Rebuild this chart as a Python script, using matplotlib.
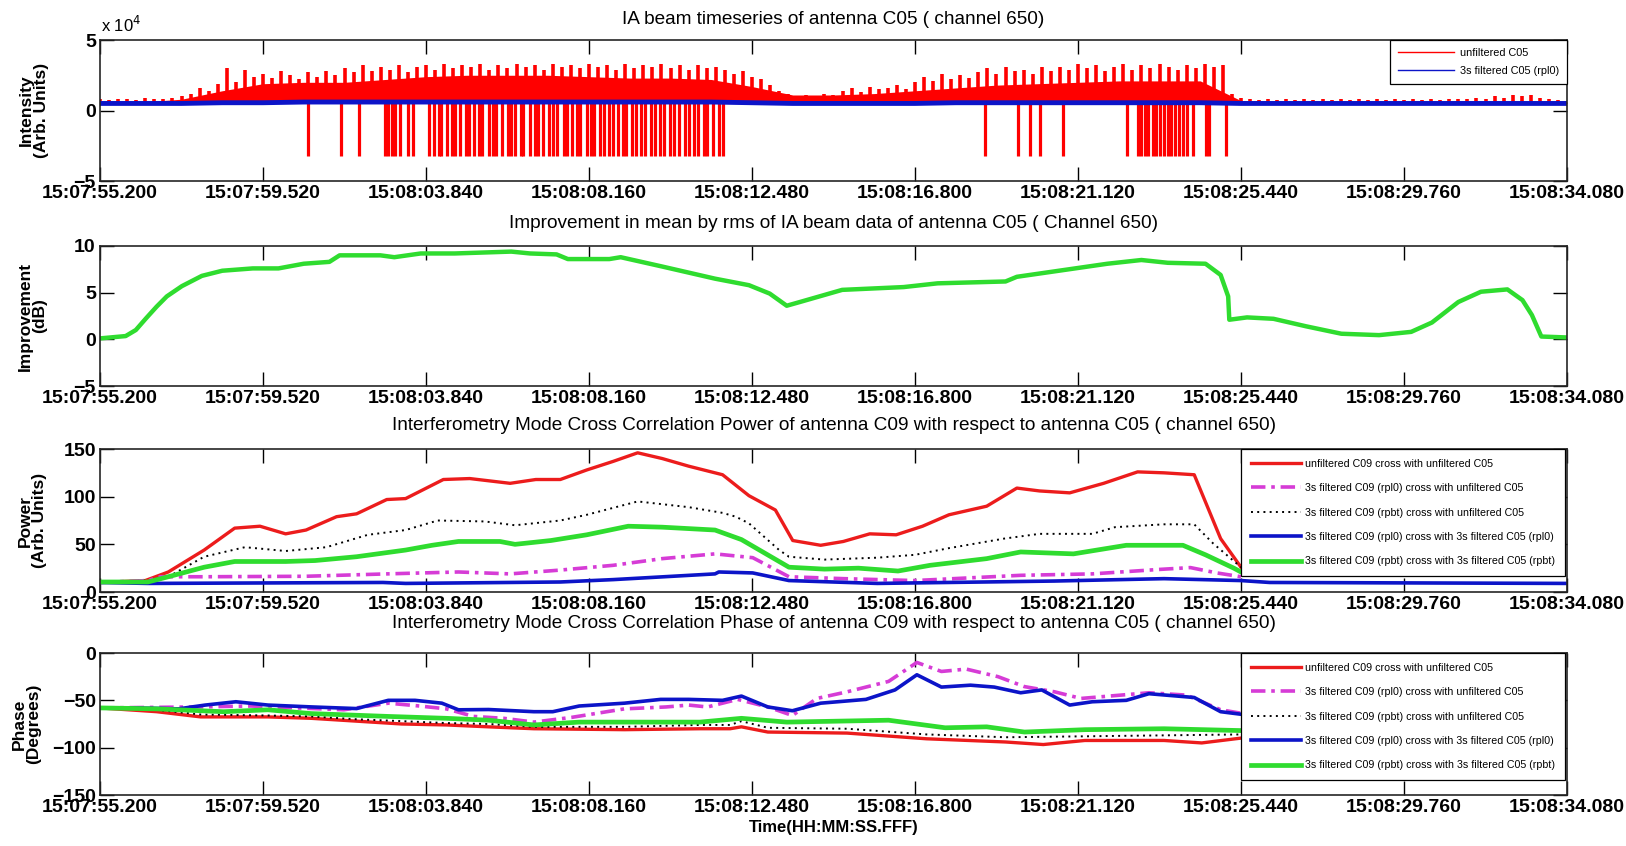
import numpy as np
import matplotlib
matplotlib.use("Agg")
import matplotlib.pyplot as plt

SANS = ["Liberation Sans", "DejaVu Sans"]

# time axis: seconds after 15:07:55.200
T_SPAN = 38.88
TICK_POS = [0.0, 4.32, 8.64, 12.96, 17.28, 21.6, 25.92, 30.24, 34.56, 38.88]
TICK_LABELS = ["15:07:55.200", "15:07:59.520", "15:08:03.840", "15:08:08.160",
               "15:08:12.480", "15:08:16.800", "15:08:21.120", "15:08:25.440",
               "15:08:29.760", "15:08:34.080"]

# --- panel 1: IA beam timeseries (units of 1e4) ---
IA_PEAK_STEP = 0.24
ia_peaks = [0.8, 0.75, 0.85, 0.8, 0.75, 0.9, 0.8, 0.85, 0.9,
            1.0, 1.2,
            1.6, 1.4, 1.9, 3.0,
            2.0, 2.9, 2.4, 2.6, 2.3, 2.8, 2.5, 2.2, 2.7, 2.4, 2.8, 2.5,
            3.0, 2.7, 3.2, 2.8, 3.1, 2.9, 3.2, 2.7, 3.1,
            3.2, 2.9, 3.3, 3.0, 3.2, 3.1, 3.3, 2.9, 3.2, 3.0, 3.3, 3.1, 3.2, 2.9, 3.3, 3.1,
            3.2, 3.0, 3.3, 3.1, 3.2, 2.9, 3.3, 3.0, 3.2, 3.1, 3.3, 3.0, 3.2, 2.9, 3.2, 3.0, 3.1,
            2.9, 2.6, 2.8, 2.4, 2.2, 1.8,
            1.4, 1.2, 1.0,
            1.1, 1.0, 1.2, 1.1,
            1.4, 1.6, 1.3, 1.7, 1.5, 1.6, 1.8, 1.5,
            2.0, 2.4, 2.1, 2.6, 2.2, 2.5, 2.3,
            2.7, 3.0, 2.6, 3.1, 2.8, 2.9, 2.6, 3.1, 2.8,
            3.1, 2.9, 3.3, 3.0, 3.2, 2.8, 3.1, 3.3, 2.9, 3.2, 3.0, 3.3, 3.1, 2.9, 3.2, 3.0, 3.3, 3.1, 3.2,
            1.2,
            0.9, 0.8, 0.75, 0.8, 0.75, 0.8, 0.75, 0.8, 0.75, 0.8, 0.75, 0.8, 0.75, 0.8, 0.75, 0.8,
            0.75, 0.8, 0.75, 0.8, 0.75, 0.8, 0.75, 0.8, 0.85, 0.8, 0.9, 0.85, 1.0, 0.9, 1.1, 1.0,
            1.1, 0.9, 0.8, 0.75, 0.7]
IA_BODY_STEP = 1.08
ia_body = [0.6, 0.6, 0.8, 1.4, 1.9, 2.0, 2.0, 2.2, 2.4, 2.5, 2.5, 2.5, 2.4, 2.3, 2.3, 2.2,
           1.7, 1.1, 1.1, 1.2, 1.4, 1.6, 1.8, 1.9, 2.0, 2.1, 2.1, 2.1, 0.7, 0.6, 0.6, 0.6,
           0.6, 0.6, 0.6, 0.6, 0.6]
ia_filtered = [0.5, 0.5, 0.5, 0.55, 0.55, 0.6, 0.6, 0.6, 0.6, 0.6, 0.6, 0.6, 0.6, 0.6, 0.6,
               0.6, 0.55, 0.5, 0.5, 0.5, 0.5, 0.55, 0.55, 0.55, 0.55, 0.55, 0.55, 0.55, 0.5,
               0.5, 0.5, 0.5, 0.5, 0.5, 0.5, 0.5, 0.5]
ia_dip_times = [5.51, 6.39, 6.86, 7.55, 7.62, 7.74, 7.83, 7.95, 8.16, 8.29,
                8.72, 8.85, 8.98, 9.05, 9.2, 9.33, 9.41, 9.55, 9.7, 9.78, 9.92, 10.05,
                10.12, 10.3, 10.42, 10.5, 10.65, 10.8, 10.88, 11.0, 11.15, 11.22, 11.4,
                11.52, 11.6, 11.75, 11.9, 12.0, 12.12, 12.3, 12.38, 12.5, 12.65, 12.72,
                12.9, 13.0, 13.1, 13.25, 13.35, 13.5, 13.6, 13.72, 13.85, 13.95, 14.1,
                14.2, 14.35, 14.45, 14.6, 14.7, 14.85, 14.95, 15.1, 15.2, 15.35, 15.5,
                15.6, 15.75, 15.85, 16.0, 16.1, 16.25, 16.4, 16.5,
                23.45, 24.33, 24.65, 24.9, 25.52, 27.22, 27.5, 27.6, 27.7, 27.78, 27.9,
                28.0, 28.1, 28.2, 28.3, 28.38, 28.5, 28.6, 28.7, 28.8, 28.97, 29.3, 29.4,
                29.84]
IA_DIP_LEVEL = -3.25

# --- panel 2: improvement (dB) ---
imp_t = [0, 0.68, 0.95, 1.22, 1.5, 1.77, 2.17, 2.7, 3.24, 4.05, 4.73, 5.4, 6.08, 6.35,
         7.43, 7.8, 8.5, 9.4, 10.9, 11.4, 12.1, 12.4, 13.5, 13.8, 14.9, 16.3, 17.2, 17.75,
         18.2, 18.55, 19.67, 21.3, 22.2, 24.0, 24.3, 25.5, 26.7, 27.6, 28.3, 29.3, 29.7,
         29.9, 29.93, 30.4, 31.1, 31.96, 32.9, 33.9, 34.75, 35.3, 36.0, 36.6, 37.3, 37.7,
         37.95, 38.2, 38.88]
imp_db = [0.1, 0.35, 1.0, 2.25, 3.5, 4.6, 5.7, 6.8, 7.35, 7.6, 7.6, 8.1, 8.3, 9.0,
          9.0, 8.8, 9.2, 9.2, 9.4, 9.2, 9.1, 8.6, 8.6, 8.8, 7.8, 6.5, 5.8, 4.9,
          3.6, 4.0, 5.3, 5.6, 6.0, 6.2, 6.7, 7.4, 8.1, 8.5, 8.2, 8.1, 6.9,
          4.6, 2.1, 2.35, 2.2, 1.4, 0.6, 0.45, 0.8, 1.8, 4.0, 5.1, 5.35, 4.2,
          2.6, 0.3, 0.2]

# --- panel 3: cross correlation power ---
pw_red_t = [0, 1.2, 1.81, 2.76, 3.57, 4.24, 4.92, 5.46, 6.27, 6.8, 7.6, 8.1, 9.1, 9.8,
            10.87, 11.55, 12.2, 12.9, 13.6, 14.25, 14.9, 15.6, 16.5, 17.2, 17.9, 18.36,
            19.1, 19.7, 20.4, 21.1, 21.8, 22.5, 23.5, 24.3, 24.9, 25.7, 26.6, 27.5, 28.2,
            29.0, 29.7, 30.24]
pw_red = [10, 12, 21, 44, 67, 69, 61, 65, 79, 82, 97, 98, 118, 119, 114, 118, 118, 128,
          137, 146, 140, 132, 123, 101, 86, 54, 49, 53, 61, 60, 69, 81, 90, 109, 106, 104,
          114, 126, 125, 123, 56, 26]
pw_mag_t = [0, 1.27, 1.6, 2.76, 5.46, 7.6, 9.5, 10.87, 12.2, 13.6, 14.9, 16.3, 17.3, 18.26,
            19.7, 21.6, 24.4, 26.3, 28.0, 28.9, 29.6, 30.24]
pw_mag = [10, 12, 16, 16, 16.5, 19, 21, 19, 23, 28, 35, 40, 36, 16, 14, 12, 17.5, 19,
          23.5, 25.6, 20, 16]
pw_blk_t = [0, 1.27, 1.81, 2.76, 3.84, 4.92, 6.0, 7.1, 8.1, 8.95, 10.2, 11.0, 12.2, 12.9,
            14.25, 15.6, 16.5, 16.85, 17.2, 18.0, 18.26, 19.2, 20.6, 21.6, 22.5, 23.96,
            24.9, 26.3, 26.9, 28.2, 29.0, 29.5, 30.24]
pw_blk = [10, 12, 16, 37, 47, 43, 47, 60, 65, 75, 74, 70, 75, 81, 95, 89, 83, 79, 72, 44,
          37, 34, 36, 39, 46, 56, 61, 61, 68, 71, 71, 51, 26]
pw_blu_t = [0, 1.27, 7.5, 8.1, 12.2, 13.6, 16.3, 16.4, 17.3, 18.26, 20.6, 25.3, 28.2,
            30.24, 31.0, 38.88]
pw_blu = [10, 9, 10, 9, 10.5, 13, 19, 21, 20, 12, 9, 11.5, 14, 12, 10, 9]
pw_grn_t = [0, 1.27, 1.81, 2.76, 3.57, 4.92, 5.7, 6.8, 8.1, 8.8, 9.5, 10.6, 11.0, 11.95,
            12.9, 14.0, 14.9, 16.3, 17.0, 18.26, 19.2, 20.1, 21.15, 22.0, 23.5, 24.4, 25.8,
            27.2, 28.7, 29.3, 30.05, 30.24]
pw_grn = [10.5, 10.5, 16, 26, 32, 32, 33, 37, 44, 49, 53, 53, 50, 54, 60, 69, 68, 65, 55,
          26, 24, 25, 22, 28, 35, 42, 40, 49, 49, 39, 25, 21]

# --- panel 4: cross correlation phase (degrees) ---
ph_red_t = [0, 1.5, 2.67, 4.45, 5.6, 6.8, 8.0, 9.18, 10.3, 11.5, 13.9, 15.9, 16.7, 17.0,
            17.7, 19.8, 21.9, 24.0, 25.0, 26.1, 28.2, 29.2, 30.3]
ph_red = [-58, -62, -67.5, -67.5, -69, -72, -75, -76, -78, -80, -81, -80, -80, -78, -83.5,
          -84.6, -90.6, -94, -96.7, -92.4, -92.4, -95, -89.6]
ph_mag_t = [0, 2.5, 4.0, 6.46, 7.64, 8.47, 9.18, 9.9, 10.7, 11.5, 12.5, 13.9, 15.0, 15.6,
            16.1, 16.9, 17.7, 18.35, 19.0, 19.8, 20.9, 21.65, 22.3, 22.96, 23.8, 24.5, 25.3,
            26.0, 26.75, 27.8, 28.8, 29.7, 30.3]
ph_mag = [-58, -57, -56, -60, -53, -56, -59, -67, -69, -73, -68, -59, -57, -55, -57, -49,
          -57, -66, -48, -41, -30, -10, -19.5, -17, -25, -35.5, -41, -48, -45.5, -42, -44.5,
          -60, -64]
ph_blk_t = [0, 1.5, 2.67, 4.45, 5.6, 6.8, 8.0, 9.18, 10.3, 11.5, 13.9, 15.9, 16.7, 17.0,
            17.7, 19.8, 21.9, 24.0, 26.1, 28.2, 30.3]
ph_blk = [-58, -60, -65, -66, -67, -70, -72, -74, -75, -78, -78, -76, -76, -72, -79, -80,
          -86, -89, -88, -87, -86]
ph_blu_t = [0, 0.9, 2.08, 2.79, 3.6, 4.45, 5.63, 6.8, 7.64, 8.35, 9.06, 9.5, 10.3, 11.5,
            12.0, 12.7, 13.9, 14.86, 15.6, 16.5, 17.0, 17.7, 18.35, 19.1, 20.3, 21.07,
            21.65, 22.3, 23.07, 23.7, 24.4, 24.96, 25.7, 26.3, 27.2, 27.8, 29.0, 29.7, 30.3]
ph_blu = [-58, -58, -59, -55, -51.5, -55, -57, -58.7, -50, -50, -53, -60, -59.7, -62, -62,
          -56, -53, -49, -49, -50, -45.5, -57, -61, -53, -49, -39, -23, -36, -34, -36, -42,
          -39, -55, -51.5, -50, -43, -47, -62, -65]
ph_grn_t = [0, 1.5, 3.27, 4.45, 5.6, 7.64, 9.18, 10.3, 11.5, 12.7, 15.9, 17.0, 18.2, 20.9,
            22.4, 23.5, 24.5, 26.1, 28.2, 30.3]
ph_grn = [-58, -59, -62, -60, -64, -67, -69, -71, -76, -73, -73, -69, -73, -71, -79, -78,
          -83.5, -81, -80, -82]

LEG_LABELS = ["unfiltered C09 cross with unfiltered C05",
              "3s filtered C09 (rpl0) cross with unfiltered C05",
              "3s filtered C09 (rpbt) cross with unfiltered C05",
              "3s filtered C09 (rpl0) cross with 3s filtered C05 (rpl0)",
              "3s filtered C09 (rpbt) cross with 3s filtered C05 (rpbt)"]

RED = "#ec1c1c"
MAG = "#d63cd6"
BLU = "#0c14c8"
GRN = "#2fdc2f"
DASHDOT = (0, (4, 1.6, 1, 1.6))
DOTTED = (0, (1, 2.2))

W, H = 1626, 846
fig = plt.figure(figsize=(W / 100, H / 100), dpi=100)
fig.patch.set_facecolor("white")


def px_axes(top, bottom, left=100, right=1567):
    return fig.add_axes([left / W, 1 - bottom / H, (right - left) / W, (bottom - top) / H])


def style(ax, ylim, yticks, ylabel, label_x):
    ax.set_xlim(0, T_SPAN)
    ax.set_ylim(*ylim)
    ax.set_xticks(TICK_POS)
    ax.set_xticklabels(TICK_LABELS)
    ax.set_yticks(yticks)
    ax.tick_params(direction="in", length=10, width=1, top=True, right=True,
                   labelsize=14, pad=3, colors="black")
    for lbl in ax.get_xticklabels() + ax.get_yticklabels():
        lbl.set_family(SANS)
        lbl.set_weight("bold")
    for sp in ax.spines.values():
        sp.set_linewidth(1.2)
        sp.set_color("0.15")
    ax.set_ylabel(ylabel, family=SANS, weight="bold", fontsize=12.5, linespacing=0.95)
    ax.yaxis.set_label_coords(label_x, 0.5)


def title(y, text):
    fig.text(833.5 / W, 1 - y / H, text, ha="center", va="center",
             family=SANS, fontsize=13.7)


def cross_legend(ax):
    lg = ax.legend(loc="upper right", bbox_to_anchor=(0.9986, 1), borderaxespad=0,
                   prop={"family": SANS, "size": 7.7}, handlelength=4.7,
                   fancybox=False, framealpha=1, edgecolor="black", labelspacing=1.35,
                   borderpad=0.9, handletextpad=0.4)
    lg.get_frame().set_linewidth(0.9)


# panel 1
ax1 = px_axes(40, 181)
tp = np.arange(len(ia_peaks)) * IA_PEAK_STEP
tb = np.arange(len(ia_body)) * IA_BODY_STEP
base = np.interp(tp, tb, ia_filtered)
ax1.fill_between(tb, ia_filtered, ia_body, color="#ff0000", lw=0)
ax1.vlines(tp, base, ia_peaks, color="#ff0000", lw=2.6)
ax1.vlines(ia_dip_times, np.interp(ia_dip_times, tb, ia_filtered), IA_DIP_LEVEL,
           color="#ff0000", lw=2.3)
ax1.plot([], [], color="#ff0000", lw=1, label="unfiltered C05")
ax1.plot(tb, ia_filtered, color=BLU, lw=3.5)
ax1.plot([], [], color=BLU, lw=1, label="3s filtered C05 (rpl0)")
style(ax1, (-5, 5), [-5, 0, 5], "Intensity\n(Arb. Units)", -0.035)
leg = ax1.legend(loc="upper right", bbox_to_anchor=(1, 1), borderaxespad=0,
                 prop={"family": SANS, "size": 7.8}, handlelength=5.2,
                 fancybox=False, framealpha=1, edgecolor="black", labelspacing=0.7,
                 borderpad=0.75, handletextpad=0.5)
leg.get_frame().set_linewidth(0.9)
fig.text(101 / W, 1 - 25 / H, r"x 10$^{4}$", ha="left", va="center",
         family=SANS, fontsize=12)
title(19, "IA beam timeseries of antenna C05 ( channel 650)")

# panel 2
ax2 = px_axes(246, 386)
ax2.plot(imp_t, imp_db, color=GRN, lw=3.2)
style(ax2, (-5, 10), [-5, 0, 5, 10], "Improvement\n(dB)", -0.036)
title(223, "Improvement in mean by rms of IA beam data of antenna C05 ( Channel 650)")

# panel 3
ax3 = px_axes(449, 592)
ax3.plot(pw_red_t, pw_red, color=RED, lw=2.4, label=LEG_LABELS[0])
ax3.plot(pw_mag_t, pw_mag, color=MAG, lw=2.6, ls=DASHDOT, label=LEG_LABELS[1])
ax3.plot(pw_blk_t, pw_blk, color="black", lw=1.4, ls=DOTTED, label=LEG_LABELS[2])
ax3.plot(pw_blu_t, pw_blu, color=BLU, lw=2.6, label=LEG_LABELS[3])
ax3.plot(pw_grn_t, pw_grn, color=GRN, lw=3.4, label=LEG_LABELS[4])
style(ax3, (0, 150), [0, 50, 100, 150], "Power\n(Arb. Units)", -0.036)
cross_legend(ax3)
title(426, "Interferometry Mode Cross Correlation Power of antenna C09 with respect to antenna C05 ( channel 650)")

# panel 4
ax4 = px_axes(653, 795)
ax4.plot(ph_red_t, ph_red, color=RED, lw=2.4, label=LEG_LABELS[0])
ax4.plot(ph_mag_t, ph_mag, color=MAG, lw=2.6, ls=DASHDOT, label=LEG_LABELS[1])
ax4.plot(ph_blk_t, ph_blk, color="black", lw=1.4, ls=DOTTED, label=LEG_LABELS[2])
ax4.plot(ph_blu_t, ph_blu, color=BLU, lw=2.6, label=LEG_LABELS[3])
ax4.plot(ph_grn_t, ph_grn, color=GRN, lw=3.4, label=LEG_LABELS[4])
style(ax4, (-150, 0), [-150, -100, -50, 0], "Phase\n(Degrees)", -0.040)
cross_legend(ax4)
title(623, "Interferometry Mode Cross Correlation Phase of antenna C09 with respect to antenna C05 ( channel 650)")
ax4.set_xlabel("Time(HH:MM:SS.FFF)", family=SANS, weight="bold", fontsize=12, labelpad=3)

fig.savefig("out.png", dpi=100, facecolor="white")
